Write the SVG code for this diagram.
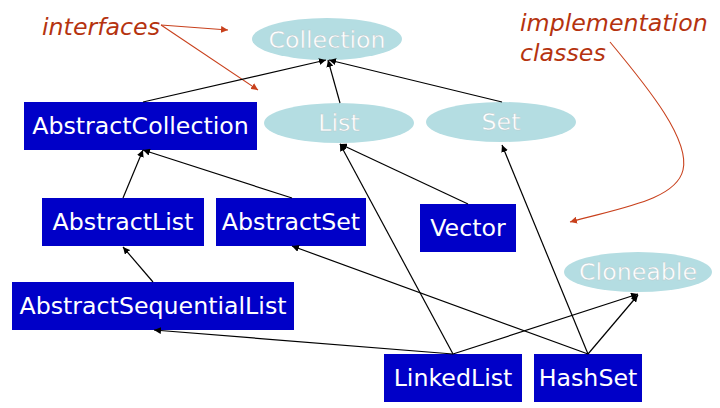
<svg xmlns="http://www.w3.org/2000/svg" width="720" height="408" viewBox="0 0 720 408">
<style>
.cls rect{fill:#0000c8}
.cls text{fill:#fff;font-family:"DejaVu Sans",Verdana,sans-serif;font-size:23.7px;text-anchor:middle}
.ifc ellipse{fill:#b4dde2}
.ifc text{fill:#fff;stroke:#b8c8ca;stroke-width:0.4;font-family:"DejaVu Sans",Verdana,sans-serif;font-size:23.7px;text-anchor:middle}
.note{fill:#b5330f;font-family:"DejaVu Sans",Verdana,sans-serif;font-size:23.7px;font-style:italic}
.edge line{stroke:#000;stroke-width:1.2;marker-end:url(#ah)}
.red{stroke:#c8401c;stroke-width:1.1;fill:none;marker-end:url(#rh)}
</style>
<defs>
<marker id="ah" viewBox="0 0 10 10" refX="10" refY="5" markerWidth="7" markerHeight="7" markerUnits="userSpaceOnUse" orient="auto"><path d="M0,0 L10,5 L0,10 z" fill="#000"/></marker>
<marker id="rh" viewBox="0 0 10 10" refX="10" refY="5" markerWidth="7" markerHeight="7" markerUnits="userSpaceOnUse" orient="auto"><path d="M0,0 L10,5 L0,10 z" fill="#c8401c"/></marker>
</defs>
<rect width="720" height="408" fill="#fff"/>
<g id="annotations">
<text class="note" x="42" y="35">interfaces</text>
<text class="note" x="520" y="31">implementation</text>
<text class="note" x="520" y="61">classes</text>
<line class="red" x1="161" y1="25" x2="228" y2="30"/>
<line class="red" x1="161" y1="25" x2="258" y2="90"/>
<path class="red" d="M610,42 C650,90 690,140 683,170 C676,200 620,208 570,222"/>
</g>
<g id="Collection" class="ifc"><ellipse cx="327" cy="39" rx="75" ry="21"/><text x="327" y="48">Collection</text></g>
<g id="List" class="ifc"><ellipse cx="339" cy="123" rx="75" ry="20"/><text x="339" y="131">List</text></g>
<g id="Set" class="ifc"><ellipse cx="501" cy="122" rx="75" ry="20"/><text x="501" y="130">Set</text></g>
<g id="Cloneable" class="ifc"><ellipse cx="638" cy="272" rx="74" ry="20"/><text x="638" y="280">Cloneable</text></g>
<g id="AbstractCollection" class="cls"><rect x="24" y="102" width="233" height="48"/><text x="140.5" y="134">AbstractCollection</text></g>
<g id="AbstractList" class="cls"><rect x="42" y="198" width="162" height="48"/><text x="123" y="230">AbstractList</text></g>
<g id="AbstractSet" class="cls"><rect x="216" y="198" width="150" height="48"/><text x="291" y="230">AbstractSet</text></g>
<g id="Vector" class="cls"><rect x="420" y="204" width="96" height="48"/><text x="468" y="236">Vector</text></g>
<g id="AbstractSequentialList" class="cls"><rect x="12" y="282" width="282" height="48"/><text x="153" y="314">AbstractSequentialList</text></g>
<g id="LinkedList" class="cls"><rect x="384" y="354" width="138" height="48"/><text x="453" y="386">LinkedList</text></g>
<g id="HashSet" class="cls"><rect x="534" y="354" width="108" height="48"/><text x="588" y="386">HashSet</text></g>
<g id="connectors" class="edge">
<line x1="143" y1="102" x2="326" y2="60"/>
<line x1="340" y1="103" x2="328" y2="60"/>
<line x1="502" y1="102" x2="329" y2="60"/>
<line x1="123" y1="198" x2="143" y2="150"/>
<line x1="292" y1="198" x2="143" y2="150"/>
<line x1="468" y1="204" x2="340" y2="144"/>
<line x1="153" y1="282" x2="123" y2="247"/>
<line x1="453" y1="354" x2="154" y2="330"/>
<line x1="453" y1="354" x2="340" y2="144"/>
<line x1="453" y1="354" x2="638" y2="294"/>
<line x1="588" y1="354" x2="502" y2="145"/>
<line x1="588" y1="354" x2="292" y2="246"/>
<line x1="588" y1="354" x2="638" y2="295"/>
</g>
</svg>
